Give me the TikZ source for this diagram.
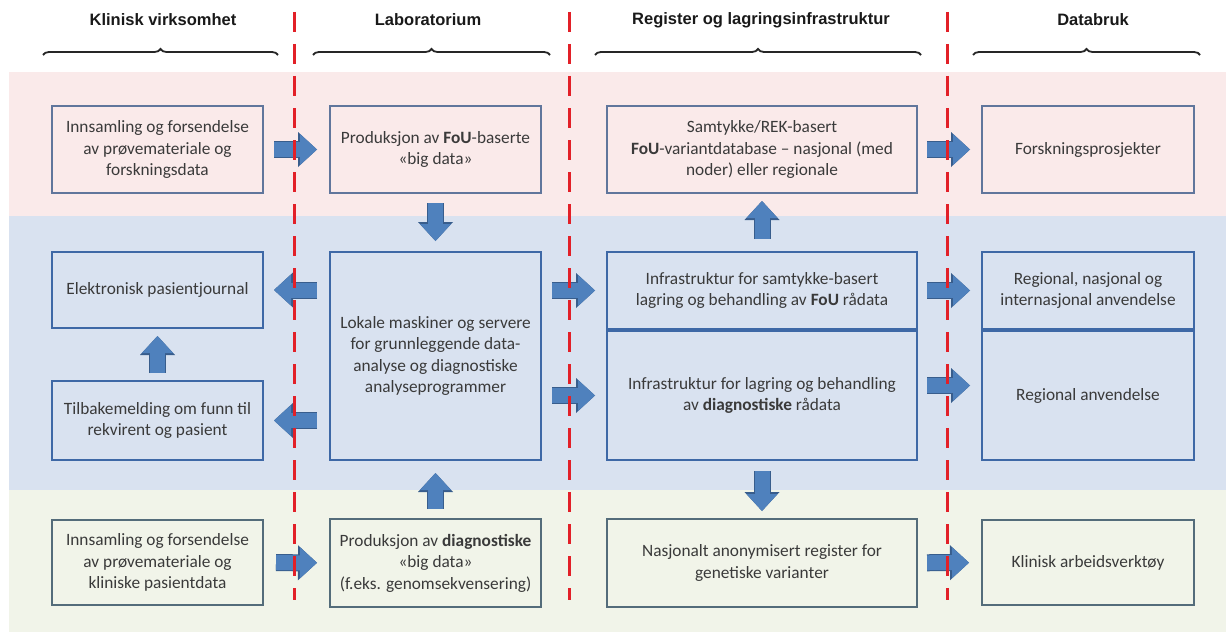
\documentclass[tikz,border=0pt]{standalone}
\usepackage{fontspec}
\setmainfont{Carlito}
\newfontfamily\headfont{Liberation Sans}
\usetikzlibrary{arrows.meta,decorations.pathreplacing}

\definecolor{bandpink}{RGB}{250,234,234}
\definecolor{bandblue}{RGB}{217,226,240}
\definecolor{bandgreen}{RGB}{241,244,233}
\definecolor{edgepink}{RGB}{96,118,156}
\definecolor{edgeblue}{RGB}{62,104,166}
\definecolor{edgegreen}{RGB}{84,108,122}
\definecolor{arrowfill}{RGB}{79,129,189}
\definecolor{arrowedge}{RGB}{56,93,140}
\definecolor{divider}{RGB}{226,32,40}
\definecolor{boxtext}{RGB}{58,58,58}

\tikzset{
	box/.style={draw, line width=2pt, align=center, text=boxtext, inner sep=0pt, font=\fontsize{17.3}{21.5}\selectfont},
	toprow/.style={box, draw=edgepink},
	midrow/.style={box, draw=edgeblue},
	botrow/.style={box, draw=edgegreen},
	blockarrow/.style={arrowfill, line width=15pt, -{Triangle[width=31pt,length=17pt,line width=0pt]},
		preaction={draw=arrowedge, line width=17pt, -{Triangle[width=35pt,length=19pt,line width=0pt]}}},
	laneline/.style={divider, line width=3pt, dash pattern=on 20pt off 12pt},
	bracket/.style={decorate, decoration={brace, amplitude=6pt}, line width=1.8pt, black!85},
	head/.style={font=\headfont\bfseries\fontsize{16.5}{20}\selectfont, text=black!90}
}

\begin{document}
\begin{tikzpicture}[x=1pt, y=-1pt]
	\useasboundingbox (0,0) rectangle (1226,634);
	
	\fill[bandpink] (9,72) rectangle (1226,216); % bands
	\fill[bandblue] (9,216) rectangle (1226,490);
	\fill[bandgreen] (9,490) rectangle (1226,632);
	
	\node[head] (hklin) at (163,20) {Klinisk virksomhet};
	\node[head] (hlab) at (428,20) {Laboratorium};
	\node[head] (hreg) at (761,20) {Register og lagringsinfrastruktur};
	\node[head] (hbruk) at (1093,20) {Databruk};
	\draw[bracket] (43,55) -- (278,55);
	\draw[bracket] (313,55) -- (550,55);
	\draw[bracket] (595,55) -- (921,55);
	\draw[bracket] (973,55) -- (1200,55);
	
	\node[toprow, minimum width=211pt, minimum height=87pt] (innfou) at (157.5,149.5) {Innsamling og forsendelse\\av prøvemateriale og\\forskningsdata};
	\node[toprow, minimum width=211pt, minimum height=87pt] (prodfou) at (435.5,149.5) {Produksjon av \textbf{FoU}-baserte\\«big data»};
	\node[toprow, minimum width=310pt, minimum height=87pt] (varfou) at (762,149.5) {Samtykke/REK-basert\\\textbf{FoU}-variantdatabase – nasjonal (med\\noder) eller regionale};
	\node[toprow, minimum width=212pt, minimum height=87pt] (forsk) at (1088,149.5) {Forskningsprosjekter};
	
	\node[midrow, minimum width=211pt, minimum height=76pt] (journal) at (157.5,290) {Elektronisk pasientjournal};
	\node[midrow, minimum width=211pt, minimum height=79pt] (tilbake) at (157.5,420.5) {Tilbakemelding om funn til\\rekvirent og pasient};
	\node[midrow, minimum width=211pt, minimum height=208pt] (lokale) at (435.5,356) {Lokale maskiner og servere\\for grunnleggende data-\\analyse og diagnostiske\\analyseprogrammer};
	\node[midrow, minimum width=310pt, minimum height=77pt] (infrafou) at (762,290.5) {Infrastruktur for samtykke-basert\\lagring og behandling av \textbf{FoU} rådata};
	\node[midrow, minimum width=310pt, minimum height=129pt] (infradiag) at (762,395.5) {Infrastruktur for lagring og behandling\\av \textbf{diagnostiske} rådata};
	\node[midrow, minimum width=212pt, minimum height=77pt] (regint) at (1088,290.5) {Regional, nasjonal og\\internasjonal anvendelse};
	\node[midrow, minimum width=212pt, minimum height=129pt] (regional) at (1088,395.5) {Regional anvendelse};
	
	\node[botrow, minimum width=211pt, minimum height=85pt] (innklin) at (157.5,562.5) {Innsamling og forsendelse\\av prøvemateriale og\\kliniske pasientdata};
	\node[botrow, minimum width=211pt, minimum height=88pt] (proddiag) at (435.5,563) {Produksjon av \textbf{diagnostiske}\\«big data»\\(f.eks. genomsekvensering)};
	\node[botrow, minimum width=310pt, minimum height=88pt] (nasreg) at (762,563) {Nasjonalt anonymisert register for\\genetiske varianter};
	\node[botrow, minimum width=212pt, minimum height=85pt] (klinisk) at (1088,562.5) {Klinisk arbeidsverktøy};
	
	\draw[blockarrow, shorten <=10pt, shorten >=12pt] (innfou) -- (prodfou);
	\draw[blockarrow, shorten <=9pt, shorten >=11pt] (varfou) -- (forsk);
	\draw[blockarrow, shorten <=9pt, shorten >=10pt] (prodfou) -- (lokale);
	\draw[blockarrow, shorten <=12pt, shorten >=7pt] (infrafou) -- (varfou);
	\draw[blockarrow, shorten <=12pt, shorten >=10pt] (lokale.west |- journal) -- (journal);
	\draw[blockarrow, shorten <=12pt, shorten >=10pt] (lokale.west |- tilbake) -- (tilbake);
	\draw[blockarrow, shorten <=7pt, shorten >=7pt] (tilbake) -- (journal);
	\draw[blockarrow, shorten <=10pt, shorten >=11pt] (lokale.east |- infrafou) -- (infrafou);
	\draw[blockarrow, shorten <=10pt, shorten >=11pt] (lokale.east |- infradiag) -- (infradiag);
	\draw[blockarrow, shorten <=9pt, shorten >=11pt] (infrafou) -- (regint);
	\draw[blockarrow, shorten <=9pt, shorten >=11pt] ([yshift=10pt]infradiag.east) -- ([yshift=10pt]regional.west);
	\draw[blockarrow, shorten <=10pt, shorten >=7pt] (infradiag) -- (nasreg);
	\draw[blockarrow, shorten <=9pt, shorten >=12pt] (proddiag) -- (lokale);
	\draw[blockarrow, shorten <=12pt, shorten >=12pt] (innklin) -- (proddiag);
	\draw[blockarrow, shorten <=9pt, shorten >=12pt] (nasreg) -- (klinisk);
	
	\draw[laneline] (294,12) -- (294,600); % lanes
	\draw[laneline] (569,12) -- (569,600);
	\draw[laneline] (947,12) -- (947,600);
	
\end{tikzpicture}
\end{document}
